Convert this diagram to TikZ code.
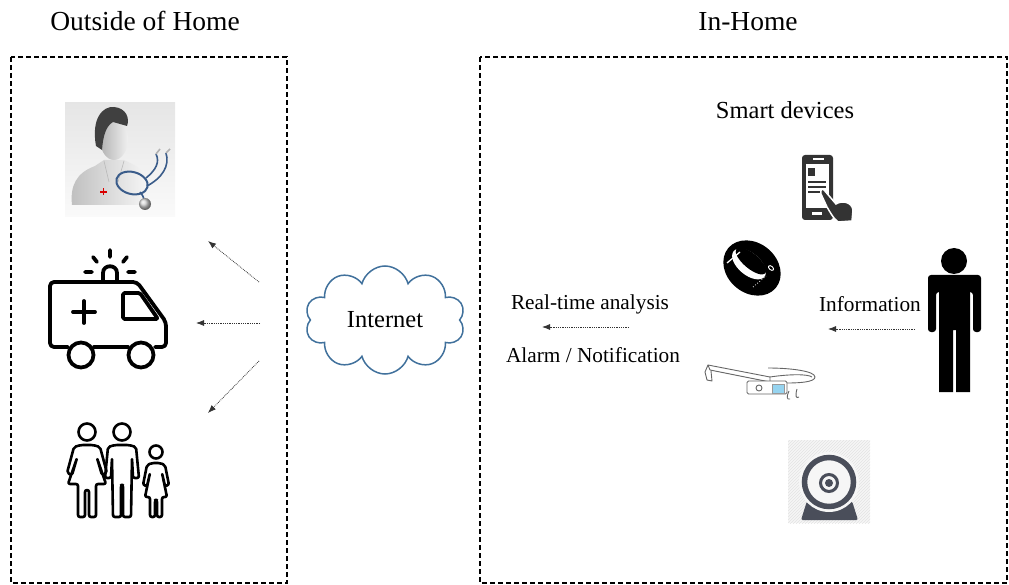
\documentclass[tikz,border=0pt]{standalone}
\usepackage{fontspec}
\setmainfont{Liberation Serif}
\usetikzlibrary{arrows.meta,shapes.symbols,patterns}
\definecolor{cloudblue}{RGB}{65,113,156}
\definecolor{camgray}{RGB}{74,78,90}
\definecolor{stethblue}{RGB}{58,92,138}
\definecolor{lensblue}{RGB}{150,212,240}

\begin{document}
\begin{tikzpicture}
[
 x=1pt, y=-1pt,
 inner sep=0.5mm,
 AREA/.style={draw=black, line width=1.5pt, dash pattern=on 5pt off 3pt},
 TITLE/.style={font=\fontsize{27.5}{30}\selectfont, anchor=base},
 LABEL/.style={font=\fontsize{21.3}{24}\selectfont, anchor=base},
 CLOUD/.style={cloud, cloud puffs=10, aspect=1.5, draw=cloudblue, line width=1.5pt,
   minimum width=160pt, minimum height=108pt, font=\fontsize{24.5}{26}\selectfont},
 FLOW/.style={draw=black!80, line width=0.8pt, densely dotted, -{Latex[length=8pt,width=6pt]}},
 OUTLINE/.style={draw=black, line width=3.8pt, line join=round, line cap=round},
 THINLINE/.style={draw=black, line width=2.6pt, line join=round, rounded corners=2pt},
 GLASS/.style={draw=black!60, line width=0.9pt, line join=round},
 ]
%
\useasboundingbox (0,0) rectangle (1009,585);
%
\draw [AREA] (11,57) rectangle (287,583);
\draw [AREA] (480,57) rectangle (1007,583);
%
\node [TITLE]  (outside)  at (145,31)  {Outside of Home};
\node [TITLE]  (inhome)   at (748,31)  {In-Home};
\node [LABEL, font=\fontsize{24.5}{26}\selectfont]  (smart)  at (785,119)  {Smart devices};
\node [LABEL]  (analysis) at (590,309) {Real-time analysis};
\node [LABEL]  (alarm)    at (593,362) {Alarm / Notification};
\node [LABEL]  (info)     at (870,312) {Information};
\node [CLOUD]  (net)      at (385,320) {Internet};
%
% doctor
\shade [top color=gray!20, bottom color=gray!4] (65,103) rectangle (175,217);
\shade [left color=gray!50, right color=gray!6]
  (72,205) .. controls (70,186) and (76,173) .. (95,166) -- (104,160) -- (124,160)
  -- (136,166) .. controls (146,172) and (150,186) .. (148,205) -- cycle;
\draw [gray!55, line width=0.6pt] (104,161) -- (109,182) (124,161) -- (118,182);
\shade [left color=gray!60, right color=gray!12] (114,139) ellipse [x radius=14, y radius=21];
\fill [black!75] (96,146) .. controls (91,118) and (103,106) .. (114,107)
  .. controls (126,108) and (130,118) .. (127,126) -- (113,122)
  .. controls (106,126) and (103,136) .. (102,150) -- cycle;
\draw [red!85!black, line width=1.5pt] (100,192) -- (107,192) (103.5,188.5) -- (103.5,195.5);
\draw [stethblue, line width=2pt, rotate around={-15:(132,183)}] (132,183) ellipse [x radius=16, y radius=11];
\draw [stethblue, line width=1.6pt] (146,178) .. controls (156,170) and (160,162) .. (156,154);
\draw [stethblue, line width=1.6pt] (147,186) .. controls (162,178) and (170,166) .. (166,153);
\draw [gray!60, line width=1.6pt] (156,154) -- (160,149) (166,153) -- (170,149);
\draw [stethblue, line width=1.6pt] (140,192) .. controls (143,196) .. (144,199);
\shade [ball color=gray!35] (145,204) circle (6);
%
% ambulance
\draw [OUTLINE, rounded corners=4pt] (68,347) -- (50,347) -- (50,282) -- (137,282) -- (166,322) -- (166,347) -- (155,347);
\draw [OUTLINE] (94,347) -- (128,347);
\draw [OUTLINE, fill=white] (81,355) circle (12.5);
\draw [OUTLINE, fill=white] (141,355) circle (12.5);
\draw [OUTLINE, rounded corners=1.5pt] (123,293) -- (140,293) -- (158,319) -- (123,319) -- cycle;
\draw [OUTLINE] (73,312) -- (95,312) (84,301) -- (84,323);
\draw [OUTLINE] (103,281) -- (103,273) .. controls (103,264) and (117,264) .. (117,273) -- (117,281);
\draw [OUTLINE] (110,250) -- (110,257) (93,257) -- (97,262) (127,257) -- (123,262)
  (85,272) -- (92,272) (128,272) -- (135,272);
%
% family
\draw [THINLINE] (87,432) circle (8.5);
\draw [THINLINE] (81,445) -- (74,447) -- (67,473) -- (72,475) -- (77,458) -- (68,484)
  -- (78,484) -- (78,517) -- (85,517) -- (85,490) -- (89,490) -- (89,517) -- (96,517)
  -- (96,484) -- (106,484) -- (97,458) -- (102,475) -- (107,473) -- (100,447) -- (93,445) -- cycle;
\draw [THINLINE] (122,432) circle (8.5);
\draw [THINLINE] (115,445) -- (108,447) -- (105,478) -- (111,478) -- (112,458) -- (113,517)
  -- (121,517) -- (121,485) -- (123,485) -- (123,517) -- (131,517) -- (132,458) -- (133,478)
  -- (139,478) -- (136,447) -- (129,445) -- cycle;
\draw [THINLINE] (156,452) circle (6.5);
\draw [THINLINE] (152,463) -- (147,465) -- (143,485) -- (147,486) -- (150,473) -- (145,497)
  -- (150,497) -- (150,517) -- (155,517) -- (155,500) -- (157,500) -- (157,517) -- (162,517)
  -- (162,497) -- (167,497) -- (162,473) -- (165,486) -- (169,485) -- (165,465) -- (160,463) -- cycle;
%
% phone
\fill [black!80, rounded corners=3pt] (802,155) rectangle (833,220);
\fill [white] (806,164) rectangle (829,208);
\fill [white] (813,158.5) rectangle (824,160.5);
\fill [white] (812,212.5) rectangle (822,215.5);
\fill [black!80] (808,168) rectangle (815,176);
\draw [black!80, line width=1.6pt] (808,182) -- (826,182) (808,187) -- (826,187) (808,192) -- (822,192);
\fill [black!80, draw=white, line width=1.5pt] (824,190) -- (836,204)
  .. controls (842,200) and (852,202) .. (853,210) -- (852,221) -- (838,222)
  .. controls (833,218) and (830,212) .. (827,207) -- (821,194) .. controls (820,190) and (822,188) .. cycle;
%
% ring
\fill [black, rotate around={-40:(752,268)}] (752,268) ellipse [x radius=31, y radius=25];
\fill [white, rotate around={-40:(749,264)}] (749,264) ellipse [x radius=20, y radius=11];
\fill [black, rotate around={-40:(751,261)}] (751,261) ellipse [x radius=19, y radius=7.5];
\draw [white, line width=1.3pt] (727,263) -- (740,252);
\draw [white, line width=0.9pt, rotate around={-40:(771,268)}] (771,268) ellipse [x radius=3, y radius=1.8];
\draw [white, line width=0.8pt, dotted] (753,287) -- (766,276);
%
% glasses
\draw [GLASS, fill=white] (708,365) -- (770,377) -- (770,382) -- (710,370) -- cycle;
\draw [GLASS] (708,365) -- (705,372) -- (707,380) -- (712,381) -- (711,371);
\draw [GLASS] (768,368) .. controls (790,368) and (815,371) .. (815,377)
  .. controls (815,382) and (800,383) .. (787,383);
\draw [GLASS] (770,377) .. controls (790,374) and (808,374) .. (812,377);
\draw [GLASS, fill=white, rounded corners=1.5pt] (747,381) rectangle (787,394);
\fill [lensblue, draw=black!40, line width=0.5pt] (772,384) rectangle (784,393);
\draw [GLASS] (759,388) circle (3);
\draw [GLASS] (789,391) .. controls (786,397) and (787,400) .. (790,399);
\draw [GLASS] (797,389) .. controls (795,396) and (796,399) .. (799,397);
%
% person
\fill [black] (954,261) circle (13);
\fill [black, rounded corners=3pt] (928,332) -- (928,275) -- (981,275) -- (981,332)
  -- (973,332) -- (973,292) -- (936,292) -- (936,332) -- cycle;
\fill [black] (939,285) -- (970,285) -- (970,392) -- (956,392) -- (956,330)
  -- (953,330) -- (953,392) -- (939,392) -- cycle;
%
% webcam
\fill [gray!7] (788,440) rectangle (870,523);
\fill [pattern=north east lines, pattern color=gray!22] (788,440) rectangle (870,523);
\fill [camgray, rounded corners=2pt] (807,501) -- (852,501) -- (858,520) -- (801,520) -- cycle;
\fill [gray!7] (829,482) circle (30);
\draw [camgray, line width=5.5pt] (829,482) circle (24.5);
\draw [camgray, line width=3pt] (829,483) circle (8.5);
\fill [camgray] (829,483) circle (4);
%
% message flows
\coordinate (srcT) at (259,282);  \coordinate (docIn)  at (208,241);
\coordinate (srcM) at (260,323);  \coordinate (ambIn)  at (196,323);
\coordinate (srcB) at (259,361);  \coordinate (famIn)  at (208,413);
\coordinate (devOut) at (629,327); \coordinate (netIn) at (542,327);
\coordinate (personOut) at (915,329); \coordinate (devIn) at (828,329);
%
\draw [FLOW] (srcT) -- (docIn);
\draw [FLOW] (srcM) -- (ambIn);
\draw [FLOW] (srcB) -- (famIn);
\draw [FLOW] (devOut) -- (netIn);
\draw [FLOW] (personOut) -- (devIn);
%
\end{tikzpicture}
\end{document}
